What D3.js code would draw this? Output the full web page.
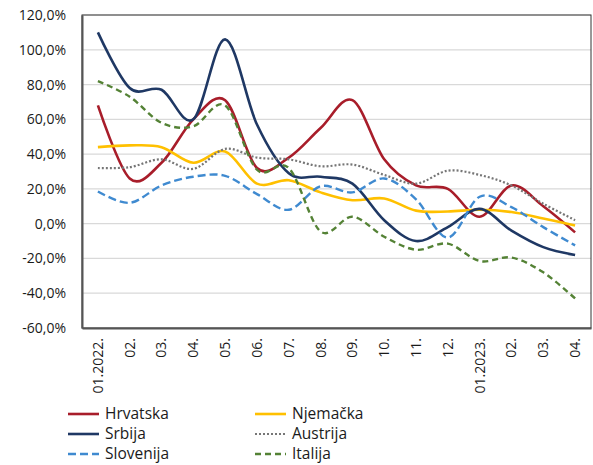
<!DOCTYPE html>
<html>
<head>
<meta charset="utf-8">
<script src="https://cdn.jsdelivr.net/npm/d3@7"></script>
<style>
  body { margin: 0; background: #fff; }
  text { font-family: "Open Sans", "DejaVu Sans", sans-serif; fill: #1a1a1a; }
  .leg text { font-family: "Liberation Sans Narrow", "Open Sans", sans-serif; }
</style>
</head>
<body>
<div id="chart"></div>
<script>
// months on the x axis
const months = ["01.2022.", "02.", "03.", "04.", "05.", "06.", "07.", "08.", "09.", "10.", "11.", "12.", "01.2023.", "02.", "03.", "04."];
const yTicks = [-60, -40, -20, 0, 20, 40, 60, 80, 100, 120];

// series values, % change
const hrvatska  = [68, 26, 35, 60, 71, 32, 38, 55, 71, 37, 22, 20, 4, 22, 10, -5];
const srbija    = [110, 78, 77, 60, 106, 57, 29, 27, 23, 2, -10, -2, 8.5, -4, -13.5, -18];
const slovenija = [18.5, 12, 22, 27, 27.5, 17, 8, 21.5, 18, 26, 14, -8, 15.5, 9.5, -2, -12.5];
const njemacka  = [44, 45, 44, 35, 41.5, 23, 25, 18, 13.5, 14.5, 7.5, 7, 8, 6.7, 3, -1];
const austrija  = [32, 32.5, 37, 31.5, 43, 38, 37, 33, 34, 28, 23, 30.5, 28, 22, 11.5, 2];
const italija   = [82, 73, 58, 56, 68, 31, 32, -4.5, 4, -7.5, -15, -11.5, -21.5, -19.5, -28, -43];

const series = [
  { name: "Hrvatska",  values: hrvatska,  color: "#a81d2a", dash: null,  width: 2.6 },
  { name: "Njemačka",  values: njemacka,  color: "#ffc000", dash: null,  width: 2.6 },
  { name: "Srbija",    values: srbija,    color: "#1f3864", dash: null,  width: 2.6 },
  { name: "Austrija",  values: austrija,  color: "#767676", dash: "2,2", width: 2.2 },
  { name: "Slovenija", values: slovenija, color: "#3f8ad0", dash: "8,4", width: 2.4 },
  { name: "Italija",   values: italija,   color: "#548235", dash: "6,4", width: 2.4 }
];

const W = 593, H = 465;
const margin = { top: 15, right: 2, bottom: 137, left: 82 };
const innerW = W - margin.left - margin.right;
const innerH = H - margin.top - margin.bottom;

const svg = d3.select("#chart").append("svg")
  .attr("width", W)
  .attr("height", H);

const g = svg.append("g").attr("transform", `translate(${margin.left},${margin.top})`);

const x = d3.scaleBand().domain(months.map((m, i) => i)).range([0, innerW]);
const y = d3.scaleLinear().domain([-60, 120]).range([innerH, 0]);
const fmt = d => d.toFixed(1).replace(".", ",") + "%";

// grid
g.selectAll(".grid").data(yTicks).join("line")
  .attr("x1", 0).attr("x2", innerW)
  .attr("y1", d => y(d)).attr("y2", d => y(d))
  .attr("stroke", "#d9d9d9").attr("stroke-width", 1.2);

// frame
g.append("rect").attr("x", 0).attr("y", 0).attr("width", innerW).attr("height", innerH)
  .attr("fill", "none").attr("stroke", "#333").attr("stroke-width", 1);

// y axis
const yAxis = g.append("g").call(d3.axisLeft(y).tickValues(yTicks).tickFormat(fmt).tickSize(0).tickPadding(16));
yAxis.select(".domain").attr("stroke", "#555").attr("stroke-width", 2);
yAxis.selectAll("text").style("font-size", "14px").attr("fill", "#1a1a1a");

// x axis
const xAxis = g.append("g").attr("transform", `translate(0,${innerH})`)
  .call(d3.axisBottom(x).tickFormat(i => months[i]).tickSize(0));
xAxis.select(".domain").attr("stroke", "#555").attr("stroke-width", 2);
xAxis.selectAll("text")
  .style("font-size", "14px").attr("fill", "#1a1a1a")
  .attr("transform", "rotate(-90)")
  .attr("text-anchor", "end")
  .attr("x", -10).attr("y", 0).attr("dy", "0.35em");

// lines
const line = d3.line()
  .x((d, i) => x(i) + x.bandwidth() / 2)
  .y(d => y(d))
  .curve(d3.curveCardinal.tension(0));

g.selectAll(".series").data(series).join("path")
  .attr("fill", "none")
  .attr("stroke", d => d.color)
  .attr("stroke-width", d => d.width)
  .attr("stroke-dasharray", d => d.dash)
  .attr("d", d => line(d.values));

// legend
const legend = svg.append("g").attr("class", "leg");
series.forEach((s, i) => {
  const col = i % 2, row = Math.floor(i / 2);
  const lx = 68 + col * 187, ly = 414 + row * 20;
  legend.append("line")
    .attr("x1", lx).attr("x2", lx + 31).attr("y1", ly).attr("y2", ly)
    .attr("stroke", s.color).attr("stroke-width", s.width)
    .attr("stroke-dasharray", s.dash);
  legend.append("text")
    .attr("x", lx + 37).attr("y", ly).attr("dy", "0.35em")
    .style("font-size", "15.5px")
    .text(s.name);
});
</script>
</body>
</html>
